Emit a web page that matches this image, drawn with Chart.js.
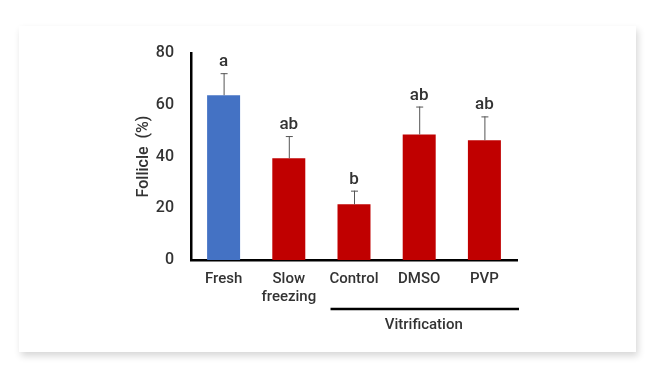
<!DOCTYPE html>
<html>
<head>
<meta charset="utf-8">
<script src="https://cdn.jsdelivr.net/npm/chart.js@4.4.1/dist/chart.umd.min.js"></script>
<style>
  html, body { margin: 0; padding: 0; background: #fff; }
  #wrap { position: relative; width: 650px; height: 386px; overflow: hidden; }
  #card { position: absolute; left: 19px; top: 26px; width: 617px; height: 326px;
          background: #fff; box-shadow: 2px 4px 7px rgba(0,0,0,0.16); }
  canvas { position: absolute; left: 0; top: 0; }
</style>
</head>
<body>
<div id="wrap">
  <div id="card"></div>
  <canvas id="chart" width="650" height="386"></canvas>
</div>
<script>
// data
const categories = ['Fresh', ['Slow', 'freezing'], 'Control', 'DMSO', 'PVP'];
const follicle = [63.7, 39.3, 21.5, 48.5, 46.3];
const errorTop = [72.2, 47.9, 26.8, 59.3, 55.5];
const letters = ['a', 'ab', 'b', 'ab', 'ab'];
const barColors = ['#4472c4', '#c00000', '#c00000', '#c00000', '#c00000'];
const yTicks = [0, 20, 40, 60, 80];

const font = 'Roboto, "Liberation Sans", Arial, sans-serif';

// error bars, letters, group line and y title
const extras = {
  id: 'extras',
  afterDatasetsDraw(chart) {
    const ctx = chart.ctx;
    const x = chart.scales.x, y = chart.scales.y;
    const area = chart.chartArea;
    ctx.save();
    follicle.forEach((v, i) => {
      const cx = x.getPixelForValue(i);
      const y0 = y.getPixelForValue(v);
      const y1 = y.getPixelForValue(errorTop[i]);
      ctx.strokeStyle = '#555';
      ctx.lineWidth = 1;
      ctx.beginPath();
      ctx.moveTo(cx + 0.5, y0);
      ctx.lineTo(cx + 0.5, y1);
      ctx.moveTo(cx - 3, y1 + 0.5);
      ctx.lineTo(cx + 4, y1 + 0.5);
      ctx.stroke();
      ctx.fillStyle = '#333';
      ctx.font = '500 17px ' + font;
      ctx.textAlign = 'center';
      ctx.textBaseline = 'alphabetic';
      ctx.fillText(letters[i], cx, y1 - 7);
    });

    // Vitrification group line
    const step = x.getPixelForValue(1) - x.getPixelForValue(0);
    const lx0 = x.getPixelForValue(2) - step * 0.36;
    const lx1 = area.right + 2;
    const ly = area.bottom + 49;
    ctx.strokeStyle = '#000';
    ctx.lineWidth = 2.5;
    ctx.beginPath();
    ctx.moveTo(lx0, ly);
    ctx.lineTo(lx1, ly);
    ctx.stroke();
    ctx.fillStyle = '#333';
    ctx.font = '500 15px ' + font;
    ctx.textAlign = 'center';
    ctx.textBaseline = 'middle';
    ctx.fillText('Vitrification', (lx0 + lx1) / 2 - 1, ly + 16);

    // y axis title
    ctx.translate(144, (area.top + area.bottom) / 2);
    ctx.rotate(-Math.PI / 2);
    ctx.font = '500 16px ' + font;
    ctx.fillText('Follicle  (%)', 0, 0);
    ctx.restore();
  }
};

new Chart(document.getElementById('chart'), {
  type: 'bar',
  data: {
    labels: categories,
    datasets: [{
      data: follicle,
      backgroundColor: barColors,
      borderWidth: 0,
      barPercentage: 0.506,
      categoryPercentage: 1
    }]
  },
  options: {
    responsive: false,
    animation: false,
    layout: { padding: { left: 141, right: 133, top: 53, bottom: 70 } },
    plugins: { legend: { display: false }, tooltip: { enabled: false } },
    scales: {
      x: {
        grid: { display: false, drawTicks: false },
        border: { color: '#000', width: 2.5 },
        ticks: { color: '#333', font: { family: font, size: 15, weight: '500', lineHeight: 1.15 }, padding: 11 },
        afterFit: s => { s.height = 56; }
      },
      y: {
        min: 0,
        max: 80,
        afterBuildTicks: s => { s.ticks = yTicks.map(v => ({ value: v })); },
        grid: { display: false, drawTicks: false },
        border: { color: '#000', width: 2.5 },
        ticks: { color: '#333', font: { family: font, size: 16, weight: '500' }, padding: 17 },
        afterFit: s => { s.width = 50; }
      }
    }
  },
  plugins: [extras]
});
</script>
</body>
</html>
